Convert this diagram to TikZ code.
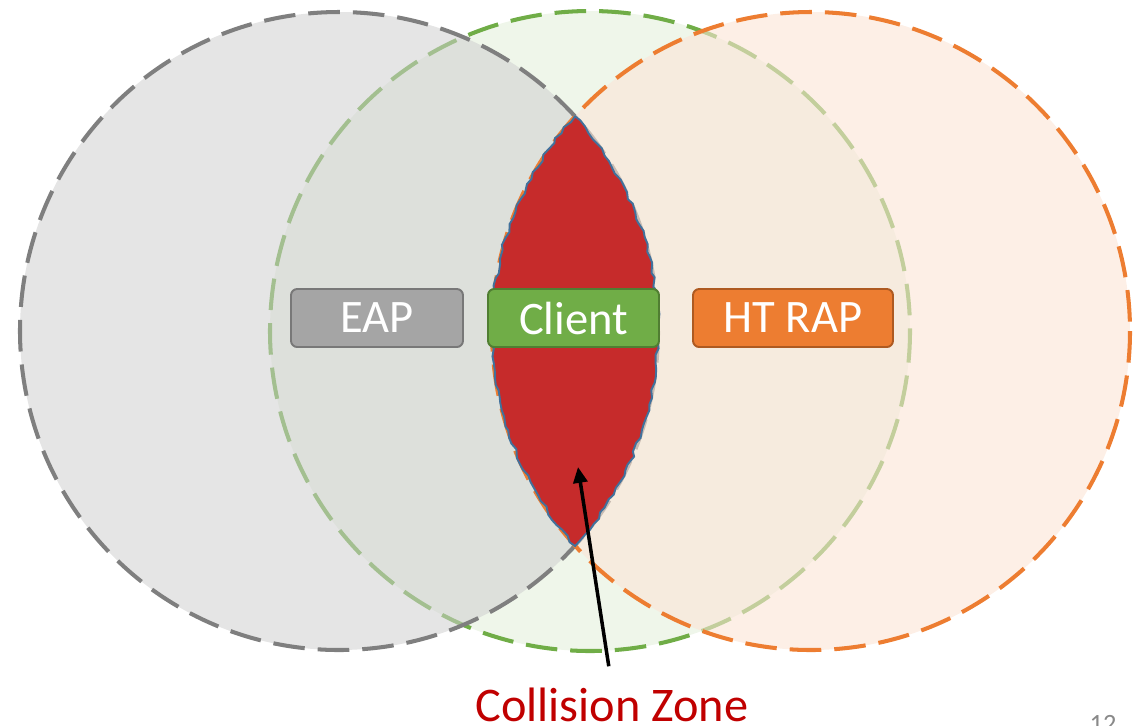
\documentclass[tikz,border=0pt]{standalone}
\usepackage{fontspec}
\setmainfont{Carlito}
\usepackage{tikz}
\usetikzlibrary{arrows.meta,decorations.pathmorphing}

\definecolor{grayline}{HTML}{7F7F7F}
\definecolor{grayfill}{HTML}{CFCFCF}
\definecolor{greenline}{HTML}{70AD47}
\definecolor{greenfill}{HTML}{EFF6EA}
\definecolor{orangeline}{HTML}{ED7D31}
\definecolor{orangefill}{HTML}{FBE5D6}
\definecolor{eapfill}{HTML}{A5A5A5}
\definecolor{eapedge}{HTML}{787878}
\definecolor{clientedge}{HTML}{507E32}
\definecolor{rapedge}{HTML}{AE5A21}
\definecolor{lensred}{HTML}{C62B2B}
\definecolor{lensblue}{HTML}{41719C}
\definecolor{zonered}{HTML}{C00000}
\definecolor{pagegray}{HTML}{898989}

\tikzset{
  coverage/.style={dash pattern=on 18pt off 7.4pt, line width=2.3pt},
  tagbox/.style={rounded corners=3.5pt, line width=1.1pt, minimum height=1.16cm,
    inner sep=0pt, text=white, font=\fontsize{26.5}{30}\selectfont},
}

\begin{document}
\begin{tikzpicture}[x=0.02cm, y=-0.02cm]
    \useasboundingbox (0,0) rectangle (1136,725);
    % coverage ranges
    \filldraw [coverage, draw=greenline, fill=greenfill] (590,331) circle[radius=320];
    \filldraw [coverage, draw=grayline, fill=grayfill, fill opacity=0.54] (339,331) circle[radius=319];
    \filldraw [coverage, draw=orangeline, fill=orangefill, fill opacity=0.6] (811,331) circle[radius=319];
    % overlap of EAP and HT RAP
    \filldraw [draw=lensblue, fill=lensred, line width=1.1pt, decorate,
      decoration={random steps, segment length=4pt, amplitude=1pt}]
      (575,116.4) arc[start angle=222.3, end angle=137.7, radius=319]
      arc[start angle=42.3, end angle=-42.3, radius=319] -- cycle;
    %
    \node [tagbox, fill=eapfill, draw=eapedge, minimum width=3.44cm] (eap) at (377,318) {EAP};
    \node [tagbox, fill=greenline, draw=clientedge, minimum width=3.42cm] (client) at (573.5,318) {Client};
    \node [tagbox, fill=orangeline, draw=rapedge, minimum width=4cm] (rap) at (793,318) {HT RAP};
    %
    \node [text=zonered, font=\fontsize{27.5}{31}\selectfont, anchor=base, inner sep=0pt] (zone) at (612,721) {Collision Zone};
    \coordinate (hit) at (578,467);
    \draw [-{Triangle[length=9pt,width=8pt]}, line width=2pt, shorten <=12pt] (zone.north) -- (hit);
    %
    \node [text=pagegray, font=\fontsize{15}{18}\selectfont, anchor=north, inner sep=0pt] (page) at (1103,715) {12};
\end{tikzpicture}
\end{document}
